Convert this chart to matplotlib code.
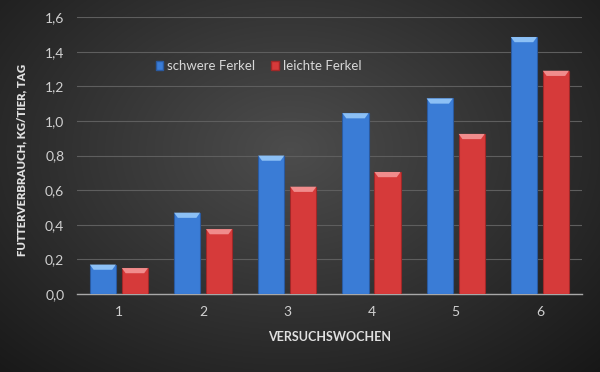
import numpy as np
import matplotlib
matplotlib.use("Agg")
import matplotlib.pyplot as plt
from matplotlib.patches import Patch, Polygon

weeks = ["1", "2", "3", "4", "5", "6"]
schwere = [0.17, 0.47, 0.80, 1.045, 1.13, 1.485]
leichte = [0.15, 0.375, 0.62, 0.705, 0.925, 1.29]
series_names = ["schwere Ferkel", "leichte Ferkel"]
yticks = [0.0, 0.2, 0.4, 0.6, 0.8, 1.0, 1.2, 1.4, 1.6]
ytick_labels = ["0,0", "0,2", "0,4", "0,6", "0,8", "1,0", "1,2", "1,4", "1,6"]

plt.rcParams['font.family'] = ['Lato', 'DejaVu Sans']

fig = plt.figure(figsize=(6, 3.72), dpi=100)

# background radial gradient
bg = fig.add_axes([0, 0, 1, 1], zorder=-10)
yy, xx = np.mgrid[0:372, 0:600]
r = np.sqrt(((xx - 290) / 420.0) ** 2 + ((yy - 150) / 300.0) ** 2)
val = np.clip(0.30 - 0.20 * r, 0.08, 0.30)
img = np.dstack([val, val, val])
bg.imshow(img, aspect='auto', extent=[0, 1, 0, 1], origin='upper')
bg.axis('off')

ax = fig.add_axes([0.128, 0.2097, 0.842, 0.7443])
ax.set_facecolor('none')

x = np.arange(1, len(weeks) + 1)
bw = 0.31
off = 0.19
colors = ['#3a7cd6', '#d63a3a']
tops = ['#8cc0f5', '#f08c8c']
edges = ['#2a5aa0', '#a02828']

for vals, o, c, tc, ec in [(schwere, -off, colors[0], tops[0], edges[0]),
                           (leichte, off, colors[1], tops[1], edges[1])]:
    bars = ax.bar(x + o, vals, width=bw, color=c, edgecolor=ec, linewidth=0.8, zorder=3)
    for b in bars:
        x0 = b.get_x(); w = b.get_width(); h = b.get_height()
        bh = 0.03
        ins = 0.045
        poly = Polygon([[x0, h], [x0 + w, h], [x0 + w - ins, h - bh], [x0 + ins, h - bh]],
                       closed=True, facecolor=tc, edgecolor='none', zorder=4)
        ax.add_patch(poly)

ax.set_xlim(0.5, 6.5)
ax.set_ylim(0, 1.6)
ax.set_yticks(yticks)
ax.set_yticklabels(ytick_labels)
ax.set_xticks(x)
ax.set_xticklabels(weeks)
ax.yaxis.grid(True, color='#5e5e5e', linewidth=0.8, zorder=0)
ax.set_axisbelow(True)
for s in ['top', 'right', 'left']:
    ax.spines[s].set_visible(False)
ax.spines['bottom'].set_color('#a8a8a8')
ax.spines['bottom'].set_linewidth(1.0)
ax.tick_params(axis='both', length=0, colors='#d0d0d0', labelsize=10)
ax.tick_params(axis='y', pad=9)
ax.tick_params(axis='x', pad=9)

ax.set_xlabel("VERSUCHSWOCHEN", fontsize=9, fontweight='bold', color='#e0e0e0', labelpad=9)
ax.set_ylabel("FUTTERVERBRAUCH, KG/TIER, TAG", fontsize=8.2, fontweight='heavy', color='#e0e0e0')
ax.yaxis.set_label_coords(-0.097, 0.484)

handles = [Patch(facecolor=colors[0], edgecolor=edges[0]), Patch(facecolor=colors[1], edgecolor=edges[1])]
leg = ax.legend(handles, series_names, loc='center', bbox_to_anchor=(0.36, 0.823), ncol=2,
                frameon=False, fontsize=9.5, handlelength=0.6, handleheight=0.6,
                handletextpad=0.3, columnspacing=1.2)
for t in leg.get_texts():
    t.set_color('#d8d8d8')

fig.savefig('out.png', dpi=100)
